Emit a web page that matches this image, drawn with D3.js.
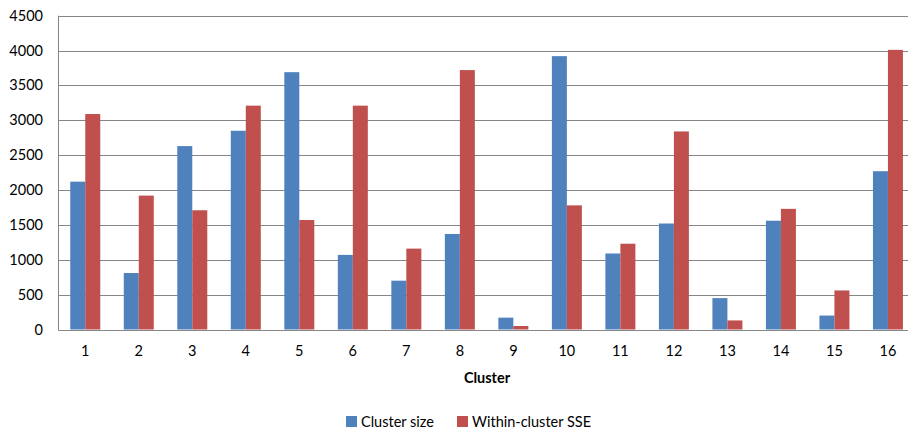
<!DOCTYPE html>
<html>
<head>
<meta charset="utf-8">
<script src="https://cdn.jsdelivr.net/npm/d3@7"></script>
<style>
  html, body { margin: 0; padding: 0; background: #fff; }
  svg { display: block; }
  text { font-family: Lato, "Open Sans", sans-serif; fill: #000; }
</style>
</head>
<body>
<svg id="chart" width="908" height="430"></svg>
<script>
const categories = ["1","2","3","4","5","6","7","8","9","10","11","12","13","14","15","16"];
const clusterSize = [2120, 810, 2630, 2850, 3690, 1070, 700, 1370, 170, 3920, 1090, 1520, 450, 1560, 200, 2270];
const withinSSE = [3090, 1920, 1710, 3210, 1570, 3210, 1160, 3720, 50, 1780, 1230, 2840, 130, 1730, 560, 4010];
const yTicks = [0, 500, 1000, 1500, 2000, 2500, 3000, 3500, 4000, 4500];
const seriesNames = ["Cluster size", "Within-cluster SSE"];
const colors = ["#4F81BD", "#C0504D"];

const svg = d3.select("#chart");
const plot = { left: 58.5, right: 914.7, top: 15.7, bottom: 329.5 };

const x = d3.scaleBand().domain(categories).range([plot.left, plot.right]).paddingInner(0).paddingOuter(0);
const y = d3.scaleLinear().domain([0, 4500]).range([plot.bottom, plot.top]);
const groupW = 30;
const x1 = d3.scaleBand().domain([0, 1]).range([0, groupW]);

// gridlines
svg.append("g").selectAll("line").data(yTicks).join("line")
  .attr("x1", plot.left).attr("x2", plot.right)
  .attr("y1", d => Math.round(y(d)) + 0.5).attr("y2", d => Math.round(y(d)) + 0.5)
  .attr("stroke", "#868686").attr("stroke-width", 1);

// bars
const series = [clusterSize, withinSSE];
const g = svg.append("g");
series.forEach((vals, si) => {
  g.selectAll(null).data(vals).join("rect")
    .attr("x", (d, i) => x(categories[i]) + (x.bandwidth() - groupW) / 2 + x1(si))
    .attr("y", d => y(d))
    .attr("width", x1.bandwidth())
    .attr("height", d => y(0) - y(d))
    .attr("fill", colors[si]);
});

// axes lines
svg.append("line").attr("x1", plot.left).attr("x2", plot.left)
  .attr("y1", plot.top).attr("y2", plot.bottom + 0.5)
  .attr("stroke", "#868686");
svg.append("line").attr("x1", plot.left).attr("x2", plot.right)
  .attr("y1", Math.round(y(0)) + 0.5).attr("y2", Math.round(y(0)) + 0.5)
  .attr("stroke", "#868686");

// y tick labels
svg.append("g").selectAll("text").data(yTicks).join("text")
  .attr("x", 43).attr("y", d => y(d) + 5)
  .attr("text-anchor", "end").attr("font-size", 14.5)
  .text(d => d);

// x tick labels
svg.append("g").selectAll("text").data(categories).join("text")
  .attr("x", d => x(d) + x.bandwidth() / 2).attr("y", 356)
  .attr("text-anchor", "middle").attr("font-size", 14.5)
  .text(d => d);

// x title
svg.append("text").attr("x", 487).attr("y", 383)
  .attr("text-anchor", "middle").attr("font-size", 14.5).attr("font-weight", "bold")
  .text("Cluster");

// legend
const legendX = [346, 457];
seriesNames.forEach((name, i) => {
  svg.append("rect").attr("x", legendX[i]).attr("y", 416).attr("width", 11).attr("height", 11).attr("fill", colors[i]);
  svg.append("text").attr("x", legendX[i] + 15).attr("y", 427).attr("font-size", 14.5).text(name);
});
</script>
</body>
</html>
